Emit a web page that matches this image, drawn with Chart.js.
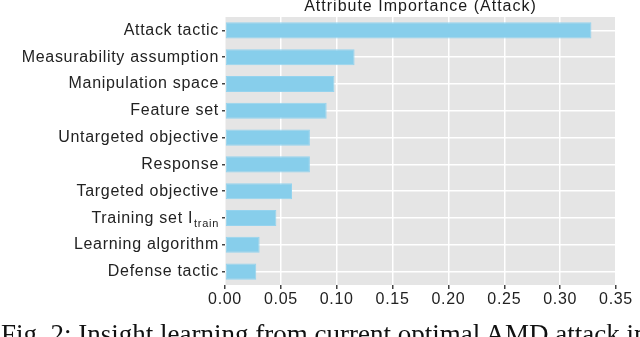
<!DOCTYPE html>
<html>
<head>
<meta charset="utf-8">
<script src="https://cdn.jsdelivr.net/npm/chart.js@4/dist/chart.umd.min.js"></script>
<style>
  html, body { margin: 0; padding: 0; background: #fff; }
  #wrap { position: relative; width: 640px; height: 337px; overflow: hidden; }
  #caption {
    position: absolute; left: 1px; top: 319px; white-space: nowrap;
    font-family: "Liberation Serif", serif; font-size: 27px; color: #111;
  }
</style>
</head>
<body>
<div id="wrap">
  <canvas id="chart" width="640" height="337"></canvas>
  <div id="caption">Fig. 2: Insight learning from current optimal AMD attack in</div>
</div>
<script>
// data, top to bottom as in the picture
const categories = [
  'Attack tactic',
  'Measurability assumption',
  'Manipulation space',
  'Feature set',
  'Untargeted objective',
  'Response',
  'Targeted objective',
  'Training set I',
  'Learning algorithm',
  'Defense tactic'
];
const importance = [0.328, 0.116, 0.098, 0.091, 0.076, 0.076, 0.060, 0.046, 0.031, 0.028];
const xTicks = [0, 0.05, 0.10, 0.15, 0.20, 0.25, 0.30, 0.35];
const chartTitle = 'Attribute Importance (Attack)';
const subscriptIndex = 7;
const subscriptText = 'train';

const labelFont = '16px "Liberation Sans", Arial, sans-serif';
const spacing = '0.7px';

// gray ggplot panel + letter spacing for all text
const panelPlugin = {
    id: 'panel',
    beforeDraw(chart) {
        const { ctx, chartArea } = chart;
        ctx.letterSpacing = spacing;
        ctx.save();
        ctx.fillStyle = '#e5e5e5';
        ctx.fillRect(chartArea.left, chartArea.top, chartArea.right - chartArea.left, chartArea.bottom - chartArea.top);
        ctx.restore();
    },
    afterDraw(chart) {
        const { ctx, chartArea } = chart;
        const yScale = chart.scales.y;
        ctx.save();
        // title centred on the panel
        ctx.letterSpacing = '1px';
        ctx.font = labelFont;
        ctx.fillStyle = '#1a1a1a';
        ctx.textAlign = 'center';
        ctx.textBaseline = 'middle';
        ctx.fillText(chartTitle, (chartArea.left + chartArea.right) / 2, 7);

        // label with subscript
        ctx.letterSpacing = spacing;
        const y = yScale.getPixelForValue(subscriptIndex);
        const right = chartArea.left - 6;
        ctx.fillStyle = '#222';
        ctx.font = '11px "Liberation Sans", Arial, sans-serif';
        ctx.textAlign = 'right';
        ctx.textBaseline = 'alphabetic';
        const subW = ctx.measureText(subscriptText).width;
        ctx.fillText(subscriptText, right, y + 9);
        ctx.font = labelFont;
        ctx.fillText(categories[subscriptIndex], right - subW - 1, y + 5);
        ctx.restore();
    }
};

const ctx = document.getElementById('chart').getContext('2d');
new Chart(ctx, {
    type: 'bar',
    data: {
        labels: categories,
        datasets: [{
            data: importance,
            backgroundColor: '#87ceeb',
            borderColor: '#95d3ee',
            borderWidth: 1,
            borderSkipped: false,
            barPercentage: 0.6,
            categoryPercentage: 1.0
        }]
    },
    options: {
        indexAxis: 'y',
        responsive: false,
        animation: false,
        layout: { padding: { top: 17, right: 24, bottom: 28, left: 0 } },
        plugins: {
            legend: { display: false },
            tooltip: { enabled: false }
        },
        scales: {
            x: {
                min: 0,
                max: 0.35,
                afterBuildTicks: (scale) => { scale.ticks = xTicks.map(v => ({ value: v })); },
                border: { display: false },
                grid: { color: '#ffffff', lineWidth: 1.5, tickColor: '#444', tickLength: 4 },
                ticks: {
                    color: '#222',
                    font: { family: '"Liberation Sans", Arial, sans-serif', size: 16 },
                    padding: 1,
                    maxRotation: 0,
                    callback: (v) => Number(v).toFixed(2)
                },
                afterFit: (scale) => { scale.height = 24; }
            },
            y: {
                border: { display: false },
                grid: { color: '#ffffff', lineWidth: 1.5, offset: false, tickColor: '#444', tickLength: 3 },
                ticks: {
                    color: '#222',
                    font: { family: '"Liberation Sans", Arial, sans-serif', size: 16 },
                    padding: 3,
                    autoSkip: false,
                    callback: (v, i) => i === subscriptIndex ? '' : categories[i]
                },
                afterFit: (scale) => { scale.width = 225; }
            }
        }
    },
    plugins: [panelPlugin]
});
</script>
</body>
</html>
